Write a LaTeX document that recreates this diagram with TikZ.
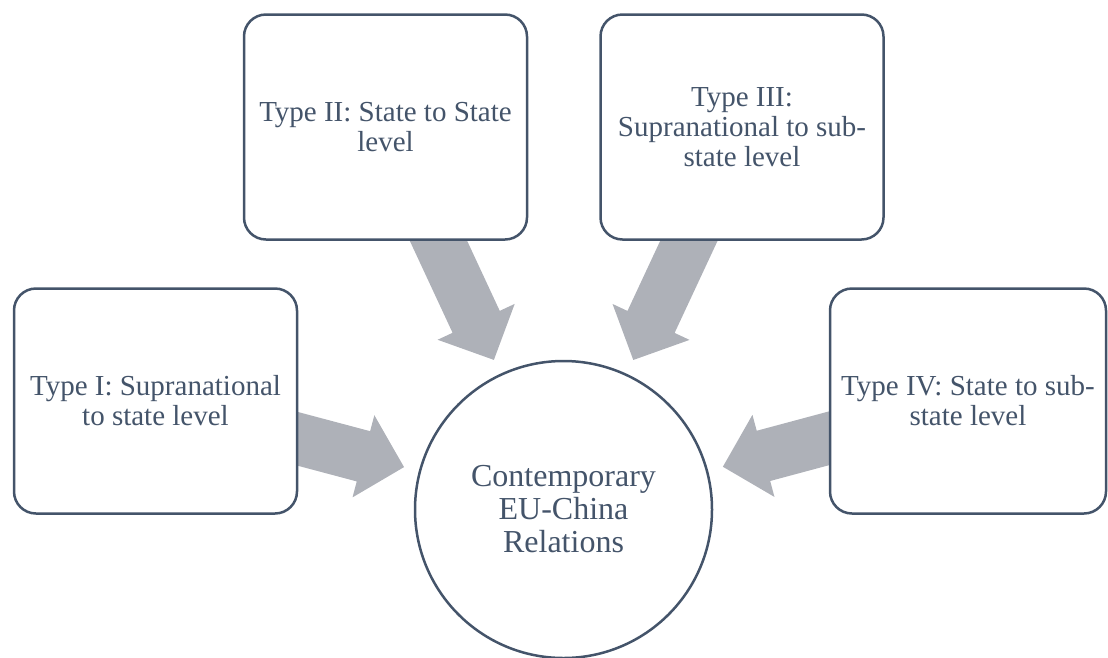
\documentclass[tikz,border=0pt]{standalone}
\usepackage{fontspec}
\setmainfont{Liberation Serif}
\usepackage{xcolor}
\usepackage{tikz}
\usetikzlibrary{calc, backgrounds}
\definecolor{slateblue}{HTML}{44546A}
\definecolor{arrowgray}{HTML}{AEB1B8}

\tikzset{
  typebox/.style={draw=slateblue, line width=2.5pt, fill=white, rounded corners=22pt,
    minimum width=283pt, minimum height=225pt, align=center, text=slateblue,
    font=\fontsize{29}{30}\selectfont},
  hub/.style={circle, draw=slateblue, line width=2.5pt, fill=white, minimum size=297pt,
    align=center, text=slateblue, font=\fontsize{32}{33}\selectfont}
}

\begin{document}
\begin{tikzpicture}[x=1pt, y=-1pt]
    \useasboundingbox (0,0) rectangle (1108,657);
    % outer types
    \node[typebox] (type1) at (155.5,401) {Type I: Supranational\\to state level};
    \node[typebox] (type2) at (385.5,127) {Type II: State to State\\level};
    \node[typebox] (type3) at (742,127) {Type III:\\Supranational to sub-\\state level};
    \node[typebox, minimum width=276pt] (type4) at (968,401) {Type IV: State to sub-\\state level};
    % centre
    \node[hub] (relations) at (563.5,509.5) {Contemporary\\EU-China\\Relations};
    % block arrows behind the boxes, tip 165pt from the centre
    \begin{scope}[on background layer]
      \foreach \t in {type1, type2, type3, type4}
        \fill[arrowgray] let \p1=(\t.center), \p2=(relations.center),
            \n1={atan2(\y2-\y1,\x2-\x1)}, \n2={veclen(\x2-\x1,\y2-\y1)-165pt} in
          [shift={(\p1)}, rotate=\n1]
          (0pt,-26pt) -- ({\n2-42pt},-26pt) -- ({\n2-42pt},-42.5pt) -- (\n2,0pt)
          -- ({\n2-42pt},42.5pt) -- ({\n2-42pt},26pt) -- (0pt,26pt) -- cycle;
    \end{scope}
\end{tikzpicture}
\end{document}
